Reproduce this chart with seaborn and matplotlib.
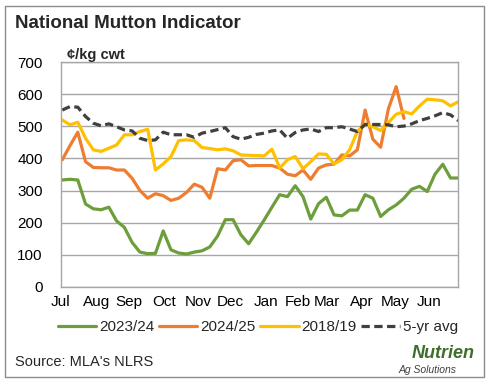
import matplotlib
matplotlib.use("Agg")
import matplotlib.pyplot as plt
import matplotlib.patches as mpatches
import numpy as np
import pandas as pd
import seaborn as sns

weeks = list(range(52))
s2023 = [333,335,333,258,243,240,248,205,185,138,108,103,104,174,115,105,102,108,112,124,
         158,209,209,162,134,170,208,248,287,281,315,281,211,259,279,224,221,239,239,287,
         276,219,240,255,276,304,313,297,351,382,339,339]
s2024 = [396,440,482,390,372,371,371,364,364,338,300,276,290,284,269,276,294,320,310,276,
         368,364,393,396,377,378,378,378,370,351,346,364,335,370,380,382,411,408,427,551,
         460,435,555,624,525] + [np.nan] * 7
s2018 = [520,505,513,463,427,422,432,442,474,474,484,491,364,383,406,456,458,456,434,431,
         427,430,424,411,410,409,408,429,370,396,406,368,390,414,413,383,396,427,484,508,
         499,487,512,538,546,539,564,585,583,580,564,577]
avg5 = [551,562,560,531,510,502,508,499,489,486,463,456,458,482,474,474,474,466,479,484,
        490,496,468,460,466,475,479,486,489,463,481,489,492,484,496,496,499,492,484,506,
        506,506,505,499,501,508,518,525,533,543,536,518]

months = ["Jul","Aug","Sep","Oct","Nov","Dec","Jan","Feb","Mar","Apr","May","Jun"]
month_pos = [-0.2,4.4,8.6,13.1,17.5,21.7,26.2,30.3,34.1,38.6,42.9,47.3]

series_names = ["2023/24", "2024/25", "2018/19", "5-yr avg"]
colors = ["#6C9E3C", "#ED7D31", "#FFC000", "#404040"]

df = pd.DataFrame({"week": weeks, "2023/24": s2023, "2024/25": s2024,
                   "2018/19": s2018, "5-yr avg": avg5})
long = df.melt(id_vars="week", var_name="series", value_name="value")

sns.set_theme(style="white")
plt.rcParams['font.family'] = ['Liberation Sans', 'DejaVu Sans']

fig = plt.figure(figsize=(4.88, 3.84), dpi=100)
ax = fig.add_axes([60.7/488, 1-286.7/384, (458.3-60.7)/488, (286.7-62.3)/384])

sns.lineplot(data=long, x="week", y="value", hue="series", style="series",
             hue_order=series_names, style_order=series_names,
             palette=dict(zip(series_names, colors)),
             dashes={"2023/24": "", "2024/25": "", "2018/19": "", "5-yr avg": (2.6, 1.4)},
             linewidth=2.3, ax=ax, legend=True)

ax.set_xlim(0, 51)
ax.set_ylim(0, 700)
ax.set_yticks(range(0, 701, 100))
ax.set_xticks(month_pos)
ax.set_xticklabels(months)
ax.set_xlabel("")
ax.set_ylabel("")
ax.grid(axis="y", color="#A6A6A6", linewidth=1)
ax.grid(axis="x", visible=False)
for sp in ax.spines.values():
    sp.set_color("#A6A6A6")
    sp.set_linewidth(1)
ax.tick_params(axis="both", length=0, labelsize=11, colors="black", pad=6)
ax.tick_params(axis="y", pad=13)

handles, labels = ax.get_legend_handles_labels()
ax.legend(handles, labels, loc="center", bbox_to_anchor=(258/488, 1-327/384),
          bbox_transform=fig.transFigure, ncol=4, frameon=False, fontsize=11,
          handlelength=2.5, handletextpad=0.2, columnspacing=0.3, borderpad=0)

fig.text(15/488, 1-24/384, "National Mutton Indicator", fontsize=13.5,
         fontweight="bold", ha="left", va="center")
fig.text(67/488, 1-55/384, "¢/kg cwt", fontsize=10.5, fontweight="bold",
         ha="left", va="center")
fig.text(15/488, 1-362/384, "Source: MLA's NLRS", fontsize=10.5,
         ha="left", va="center")
fig.text(475/488, 1-353/384, "Nutrien", fontsize=13, fontweight="bold",
         fontstyle="italic", color="#3E6E2A", ha="right", va="center")
fig.text(457/488, 1-370/384, "Ag Solutions", fontsize=7.5, fontstyle="italic",
         color="#404040", ha="right", va="center")

border = mpatches.Rectangle((5/488, 7/384), 479/488, 371/384, transform=fig.transFigure,
                            fill=False, edgecolor="#8C8C8C", linewidth=1)
fig.patches.append(border)

fig.savefig("out.png", dpi=100)
